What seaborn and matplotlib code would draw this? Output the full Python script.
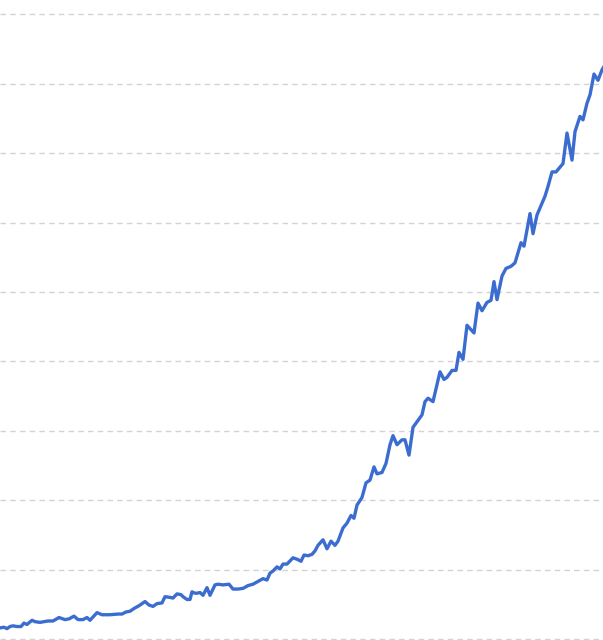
import matplotlib
matplotlib.use("Agg")
import matplotlib.pyplot as plt
import seaborn as sns

# valores leidos a ojo del grafico (sin etiquetas de ejes, unidad arbitraria)
periodo = [0, 4, 7, 10, 13, 17, 21, 24, 27, 32, 35, 40, 48, 53, 59, 65, 69, 74, 78, 83,
           87, 90, 97, 102, 110, 118, 122, 126, 130, 134, 139, 145, 149, 153, 157, 162, 165, 170, 173, 177,
           181, 183, 187, 190, 192, 195, 197, 200, 203, 207, 210, 215, 218, 223, 229, 233, 238, 243, 248, 253,
           258, 263, 267, 270, 273, 277, 280, 283, 287, 293, 297, 301, 304, 308, 312, 315, 318, 323, 327, 331,
           335, 338, 343, 347, 351, 354, 357, 362, 366, 370, 374, 377, 382, 386, 390, 393, 397, 402, 405, 409,
           413, 418, 422, 425, 428, 433, 440, 444, 447, 452, 456, 459, 463, 467, 474, 478, 482, 487, 491, 494,
           497, 502, 506, 511, 515, 521, 524, 530, 533, 537, 542, 545, 548, 552, 556, 563, 567, 572, 575, 580,
           583, 587, 590, 594, 598, 602, 606]
valor = [0.16, 0.17, 0.15, 0.18, 0.19, 0.18, 0.18, 0.23, 0.21, 0.27, 0.25, 0.24, 0.26, 0.26, 0.31, 0.28, 0.29, 0.33, 0.28, 0.28,
         0.31, 0.27, 0.38, 0.35, 0.35, 0.36, 0.36, 0.39, 0.40, 0.44, 0.48, 0.54, 0.49, 0.47, 0.51, 0.52, 0.61, 0.60, 0.59, 0.65,
         0.64, 0.61, 0.57, 0.57, 0.68, 0.66, 0.66, 0.67, 0.63, 0.74, 0.63, 0.78, 0.79, 0.78, 0.79, 0.72, 0.72, 0.73, 0.77, 0.79,
         0.83, 0.87, 0.85, 0.95, 0.98, 1.04, 1.01, 1.08, 1.08, 1.17, 1.15, 1.12, 1.21, 1.20, 1.22, 1.27, 1.35, 1.43, 1.30, 1.41,
         1.35, 1.41, 1.60, 1.67, 1.78, 1.74, 1.93, 2.04, 2.25, 2.29, 2.48, 2.38, 2.40, 2.53, 2.80, 2.93, 2.80, 2.87, 2.87, 2.65,
         3.05, 3.15, 3.23, 3.42, 3.47, 3.42, 3.85, 3.74, 3.77, 3.87, 3.87, 4.13, 4.03, 4.52, 4.41, 4.84, 4.73, 4.85, 4.88, 5.15,
         4.89, 5.23, 5.34, 5.37, 5.42, 5.71, 5.66, 6.13, 5.84, 6.11, 6.28, 6.38, 6.52, 6.73, 6.73, 6.85, 7.29, 6.90, 7.31, 7.53,
         7.48, 7.72, 7.84, 8.14, 8.05, 8.20, 8.30]
lineas_guia = list(range(0, 10))

sns.set_style("white")

fig = plt.figure(figsize=(6.03, 6.40), dpi=100)
ax = fig.add_axes([0, 0, 1, 1])

sns.lineplot(x=periodo, y=valor, ax=ax, color="#3b6dd0", linewidth=2.4)

# grilla horizontal punteada, sin ejes visibles
ax.set_yticks(lineas_guia)
ax.yaxis.grid(True, linestyle=(0, (4, 3)), color="#d3d3d3", linewidth=1.0)
ax.set_axisbelow(True)
ax.set_xticks([])
ax.tick_params(left=False, labelleft=False)
for s in ax.spines.values():
    s.set_visible(False)

ax.set_xlim(0, 603)
ax.set_ylim(-0.014, 9.207)
ax.set_xlabel("")
ax.set_ylabel("")

fig.savefig("out.png", dpi=100)
